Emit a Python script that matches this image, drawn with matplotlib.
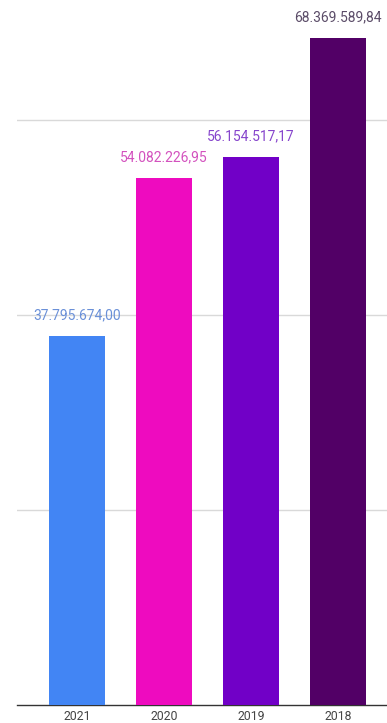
import matplotlib
matplotlib.use("Agg")
import matplotlib.pyplot as plt

categories = ["2021", "2020", "2019", "2018"]
values = [37795674.00, 54082226.95, 56154517.17, 68369589.84]
labels = ["37.795.674,00", "54.082.226,95", "56.154.517,17", "68.369.589,84"]
bar_colors = ["#4285F4", "#EE0BBF", "#7100C7", "#520066"]
label_colors = ["#6A90D8", "#D352BE", "#8645CC", "#5B4C68"]
grid_ticks = [20000000, 40000000, 60000000]

plt.rcParams['font.family'] = ['Roboto', 'DejaVu Sans']

W, H = 387, 723
fig = plt.figure(figsize=(W / 100, H / 100), dpi=100)
ax = fig.add_axes([17 / W, 18 / H, 1 - 17 / W, 1 - 18 / H])

x = list(range(len(categories)))
ax.bar(x, values, width=0.645, color=bar_colors, zorder=3)
ax.set_xlim(-0.69, 3.56)
ax.set_ylim(0, 72300000)

ax.set_yticks(grid_ticks)
ax.yaxis.grid(True, color="#d9d9d9", linewidth=1, zorder=0)
ax.tick_params(axis="y", left=False, labelleft=False)
ax.set_xticks(x)
ax.set_xticklabels(categories, fontsize=8.8, color="#444444")
ax.tick_params(axis="x", length=0, pad=3.5)

for s in ["top", "right", "left"]:
    ax.spines[s].set_visible(False)
ax.spines["bottom"].set_color("#333333")
ax.spines["bottom"].set_linewidth(1)

for xi, v, lab, c in zip(x, values, labels, label_colors):
    ax.annotate(lab, (xi, v), xytext=(0, 12), textcoords="offset points",
                ha="center", va="baseline", fontsize=10, color=c, zorder=4)

fig.savefig("out.png", dpi=100)
